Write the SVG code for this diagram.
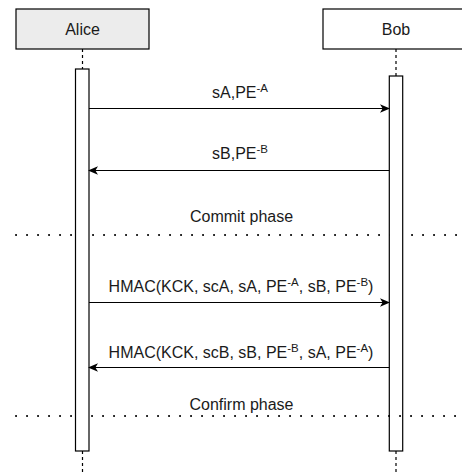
<svg xmlns="http://www.w3.org/2000/svg" width="462" height="472" viewBox="0 0 462 472">
  <style>
    .box { fill: #ffffff; stroke: #000000; stroke-width: 1.2; }
    .bar { fill: #ffffff; stroke: #000000; stroke-width: 1.2; }
    .life { stroke: #000000; stroke-width: 1.2; stroke-dasharray: 3 3; fill: none; }
    .msg { stroke: #000000; stroke-width: 1.2; fill: none; }
    .phase { stroke: #000000; stroke-width: 2; stroke-dasharray: 0.1 10.9; stroke-linecap: round; fill: none; }
    text { font-family: "Liberation Sans", Arial, sans-serif; font-size: 16px; fill: #1a1a1a; }
    .c { text-anchor: middle; }
    .sup { font-size: 11.5px; }
  </style>
  <defs>
    <marker id="arrow" viewBox="0 0 10 10" refX="9" refY="5" markerWidth="10" markerHeight="10" markerUnits="userSpaceOnUse" orient="auto">
      <path d="M0,0.8 L10,5 L0,9.2 L2.6,5 Z" fill="#000000"/>
    </marker>
  </defs>

  <rect width="462" height="472" fill="#ffffff"/>

  <!-- participants -->
  <g id="alice">
    <rect class="box" x="16" y="9" width="133" height="40" style="fill:#ececec"/>
    <text class="c" x="82.5" y="35">Alice</text>
    <line class="life" x1="82.5" y1="49" x2="82.5" y2="69"/>
    <line class="life" x1="82.5" y1="451" x2="82.5" y2="472"/>
  </g>
  <g id="bob">
    <rect class="box" x="323" y="9" width="147" height="40"/>
    <text class="c" x="396" y="35">Bob</text>
    <line class="life" x1="396" y1="49" x2="396" y2="76"/>
    <line class="life" x1="396" y1="451" x2="396" y2="472"/>
  </g>

  <!-- phase separators -->
  <g id="commit-phase">
    <line class="phase" x1="16" y1="235" x2="462" y2="235"/>
    <text class="c" x="241.5" y="221.5">Commit phase</text>
  </g>

  <!-- activation bars -->
  <g id="alice-activation">
    <rect class="bar" x="75.5" y="69" width="13.5" height="382"/>
  </g>
  <g id="bob-activation">
    <rect class="bar" x="389.3" y="76" width="13.4" height="375"/>
  </g>

  <g id="confirm-phase">
    <line class="phase" x1="16" y1="416" x2="75" y2="416"/>
    <line class="phase" x1="92" y1="416" x2="462" y2="416"/>
    <text class="c" x="241.5" y="410">Confirm phase</text>
  </g>

  <!-- messages -->
  <g id="connectors">
    <line class="msg" x1="89" y1="108.5" x2="389" y2="108.5" marker-end="url(#arrow)"/>
    <line class="msg" x1="389.3" y1="170.5" x2="89" y2="170.5" marker-end="url(#arrow)"/>
    <line class="msg" x1="89" y1="302.5" x2="389" y2="302.5" marker-end="url(#arrow)"/>
    <line class="msg" x1="389.3" y1="367.5" x2="89" y2="367.5" marker-end="url(#arrow)"/>
  </g>

  <g id="labels">
    <text class="c" x="240" y="98">sA,PE<tspan class="sup" dy="-6">-A</tspan></text>
    <text class="c" x="240" y="159">sB,PE<tspan class="sup" dy="-6">-B</tspan></text>
    <text class="c" x="241" y="291.5">HMAC(KCK, scA, sA, PE<tspan class="sup" dy="-6">-A</tspan><tspan dy="6">, sB, PE</tspan><tspan class="sup" dy="-6">-B</tspan><tspan dy="6">)</tspan></text>
    <text class="c" x="241" y="358">HMAC(KCK, scB, sB, PE<tspan class="sup" dy="-6">-B</tspan><tspan dy="6">, sA, PE</tspan><tspan class="sup" dy="-6">-A</tspan><tspan dy="6">)</tspan></text>
  </g>
</svg>
